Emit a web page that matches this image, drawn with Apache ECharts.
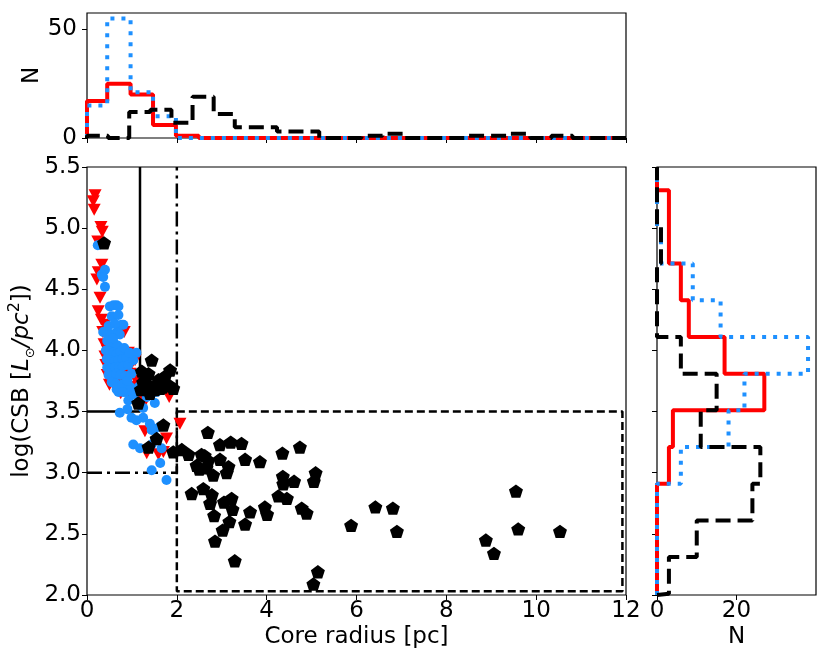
<!DOCTYPE html>
<html>
<head>
<meta charset="utf-8">
<script src="https://cdn.jsdelivr.net/npm/echarts@6/dist/echarts.min.js"></script>
<style>
  html, body { margin: 0; padding: 0; background: #fff; }
  #chart { width: 830px; height: 662px; }
</style>
</head>
<body>
<div id="chart"></div>
<script>
// top histogram (core radius), bin edges + counts
var topEdgesRB = [0, 0.45, 0.97, 1.47, 1.98, 2.49, 12];
var redTop = [17, 25, 20, 6, 1, 0];
var blueTop = [15, 55, 21, 10, 0, 0];
var topEdgesK = [0, 0.47, 0.94, 1.41, 1.88, 2.35, 2.82, 3.29, 3.76, 4.23, 4.70, 5.17, 5.64, 6.11, 6.58, 7.05, 7.52, 7.99, 8.46, 8.93, 9.40, 9.87, 10.34, 10.81, 11.28, 11.75, 12];
var blackTop = [1, 0, 12, 13, 7, 19, 11, 5, 5, 3, 3, 0, 0, 1, 2, 0, 0, 0, 1, 1, 2, 0, 1, 0, 0, 0];

// right histogram (log CSB), bin edges + counts
var rightEdges = [2.0, 2.01, 2.31, 2.61, 2.91, 3.21, 3.51, 3.81, 4.11, 4.41, 4.71, 5.01, 5.31, 5.5];
var redRight = [0, 0, 0, 0, 3, 4, 27, 17, 8, 6, 3, 3, 0];
var blueRight = [0, 0, 0, 0, 6, 18, 22, 38, 16, 9, 1, 0, 0];
var blackRight = [0, 3, 10, 24, 26, 11, 15, 6, 0, 0, 1, 0, 0];

// scatter: [core radius, log CSB]
var redPts = [
  [0.18,5.27],[0.14,5.22],[0.16,5.15],[0.31,5.01],[0.34,4.97],[0.24,4.89],[0.33,4.70],[0.25,4.64],
  [0.22,4.58],[0.29,4.43],[0.25,4.32],[0.40,4.21],[0.47,4.11],[0.51,4.06],[0.77,4.14],[0.83,4.15],
  [0.92,3.98],[0.59,3.92],[0.66,3.79],[1.07,3.92],[0.81,3.76],[0.96,3.81],[0.99,3.89],[1.83,3.62],
  [2.07,3.40],[1.29,3.34],[1.77,3.28],[1.33,3.16],[1.59,3.15],[1.70,3.17],
  [0.55,3.85],[0.62,3.70],[0.70,3.72],[0.75,3.65],[0.88,3.68],[0.45,4.00],[0.50,3.95],[0.60,4.02],
  [0.85,3.85],[1.00,3.70],[1.10,3.75],[0.95,3.62],[1.20,3.64],[1.30,3.59],[0.70,3.85],[0.72,3.78],
  [0.32,4.25],[0.35,4.15],[0.38,4.05],[0.40,3.95],[0.42,3.88],[0.45,3.80],[0.50,3.72]
];
var bluePts = [
  [0.24,4.86],[0.40,4.66],[0.33,4.62],[0.36,4.60],[0.40,4.52],[0.51,4.36],[0.66,4.37],[0.59,4.37],
  [0.70,4.36],[0.55,4.28],[0.70,4.29],[0.81,4.21],[0.77,4.21],[0.40,4.15],[0.36,4.15],[0.55,4.13],
  [0.66,4.15],[0.70,4.14],[0.73,4.13],[1.10,3.98],[0.99,3.81],[0.70,3.66],[0.85,3.66],[0.92,3.59],
  [1.03,3.64],[0.66,3.68],[0.96,3.70],[1.33,3.62],[1.51,3.57],[1.55,3.66],[0.73,3.49],[0.99,3.45],
  [1.25,3.45],[1.10,3.43],[1.25,3.53],[1.40,3.40],[1.44,3.35],[1.51,3.36],[1.63,3.38],[1.03,3.23],
  [1.18,3.20],[1.44,3.23],[1.66,3.20],[1.63,3.08],[1.44,3.02],[1.77,2.94],
  [0.45,4.08],[0.52,4.05],[0.60,4.06],[0.68,4.04],[0.42,4.00],[0.50,3.99],[0.58,3.98],[0.66,3.97],
  [0.75,3.99],[0.83,4.02],[0.44,3.93],[0.52,3.92],[0.61,3.91],[0.70,3.92],[0.78,3.93],[0.88,3.94],
  [0.45,3.86],[0.53,3.85],[0.62,3.86],[0.71,3.86],[0.80,3.87],[0.92,3.88],[0.48,3.80],[0.57,3.79],
  [0.65,3.81],[0.74,3.80],[0.85,3.79],[0.55,3.74],[0.64,3.73],[0.78,3.72],[0.90,3.75],[0.48,4.20],
  [0.62,4.22],[0.58,4.10],[1.03,3.92],[0.95,3.98],[0.80,3.66],[1.15,3.70],[0.90,3.52],[1.18,3.55]
];
var blackPts = [
  [0.38,4.88],
  [1.44,3.92],[1.22,3.83],[1.37,3.81],[1.59,3.76],[1.85,3.84],[1.74,3.79],[1.25,3.74],[1.44,3.70],
  [1.63,3.69],[1.92,3.69],[1.77,3.72],[1.51,3.68],[1.14,3.57],[1.70,3.39],[1.55,3.28],[1.37,3.21],
  [1.92,3.17],[1.30,3.76],[1.55,3.72],[1.68,3.70],[1.20,3.68],[1.85,3.71],[1.40,3.65],
  [2.69,3.33],[2.96,3.23],[3.20,3.25],[3.44,3.24],[3.52,3.11],[3.85,3.09],[4.35,3.16],[4.74,3.21],
  [2.11,3.19],[2.26,3.15],[2.55,3.15],[2.62,3.14],[2.44,3.06],[2.66,3.04],[2.96,3.11],[3.15,3.05],
  [2.81,2.98],[3.11,3.00],[2.50,3.03],[2.70,3.10],[2.33,2.83],[2.59,2.87],[2.78,2.82],[2.74,2.75],
  [3.05,2.76],[3.22,2.79],[3.24,2.70],[2.83,2.65],[3.17,2.60],[3.02,2.53],[2.85,2.44],[3.52,2.58],
  [3.63,2.68],[3.96,2.72],[4.01,2.66],[3.29,2.28],[4.36,2.97],[4.37,2.91],[4.61,2.93],[4.26,2.81],
  [4.45,2.79],[4.78,2.71],[4.89,2.67],[5.09,3.00],[5.05,2.93],[5.14,2.19],[5.04,2.09],[5.88,2.57],
  [6.42,2.72],[6.81,2.71],[6.90,2.52],[8.88,2.45],[9.06,2.34],[9.55,2.85],[9.60,2.54],[10.53,2.52]
];

// selection boxes
var solidBox = [[0,3.5],[1.18,3.5],[1.18,5.5]];
var dashDotBox = [[0,3.0],[2.0,3.0],[2.0,5.5]];
var dashedBox = [[2.0,3.5],[11.92,3.5],[11.92,2.03],[2.0,2.03],[2.0,3.5]];

var topNTicks = [0, 50];
var rightNTicks = [0, 20];

var FONT = 'DejaVu Sans';
var FS = 23;
var pentagon = 'path://M0,-1 L0.951,-0.309 L0.588,0.809 L-0.588,0.809 L-0.951,-0.309 Z';

// histtype='step' outline
function stepPts(edges, counts, horiz) {
    var pts = [[edges[0], 0]];
    for (var i = 0; i < counts.length; i++) {
        pts.push([edges[i], counts[i]]);
        pts.push([edges[i + 1], counts[i]]);
    }
    pts.push([edges[edges.length - 1], 0]);
    if (horiz) {
        pts = pts.map(function (p) { return [p[1], p[0]]; });
    }
    return pts;
}

function stepLine(idx, data, color, type, z) {
    return {
        type: 'line', xAxisIndex: idx, yAxisIndex: idx, data: data,
        symbol: 'none', silent: true, animation: false, z: z,
        lineStyle: { color: color, width: 4, type: type, cap: 'butt' }
    };
}

function boxLine(data, type) {
    return {
        type: 'line', xAxisIndex: 1, yAxisIndex: 1, data: data,
        symbol: 'none', silent: true, animation: false, z: 1,
        lineStyle: { color: '#000', width: 2.5, type: type }
    };
}

var tickStyle = { show: true, inside: false, length: 5, lineStyle: { color: '#000', width: 1 } };
var labelStyle = { color: '#000', fontFamily: FONT, fontSize: FS };
var gridBase = { show: true, borderColor: '#000', borderWidth: 1.2, backgroundColor: 'transparent', containLabel: false, outerBoundsMode: 'none' };

var myChart = echarts.init(document.getElementById('chart'));
var option = {
    backgroundColor: '#fff',
    animation: false,
    grid: [
        Object.assign({ left: 87, top: 13, width: 539, height: 125 }, gridBase),
        Object.assign({ left: 87, top: 167, width: 539, height: 428 }, gridBase),
        Object.assign({ left: 657, top: 167, width: 159, height: 428 }, gridBase)
    ],
    xAxis: [
        {
            gridIndex: 0, type: 'value', min: 0, max: 12, interval: 2,
            axisLine: { show: false }, splitLine: { show: false },
            axisTick: tickStyle, axisLabel: { show: false }
        },
        {
            gridIndex: 1, type: 'value', min: 0, max: 12, interval: 2,
            axisLine: { show: false }, splitLine: { show: false },
            axisTick: tickStyle,
            axisLabel: Object.assign({ margin: 5 }, labelStyle),
            name: 'Core radius [pc]', nameLocation: 'middle', nameGap: 31, nameMoveOverlap: false,
            nameTextStyle: labelStyle
        },
        {
            gridIndex: 2, type: 'value', min: 0, max: 40,
            axisLine: { show: false }, splitLine: { show: false },
            axisTick: Object.assign({ customValues: rightNTicks }, tickStyle),
            axisLabel: Object.assign({ margin: 5, customValues: rightNTicks }, labelStyle),
            name: 'N', nameLocation: 'middle', nameGap: 31, nameMoveOverlap: false,
            nameTextStyle: labelStyle
        }
    ],
    yAxis: [
        {
            gridIndex: 0, type: 'value', min: 0, max: 57.5,
            axisLine: { show: false }, splitLine: { show: false },
            axisTick: Object.assign({ customValues: topNTicks }, tickStyle),
            axisLabel: Object.assign({ margin: 10, customValues: topNTicks }, labelStyle),
            name: 'N', nameLocation: 'middle', nameGap: 43, nameMoveOverlap: false,
            nameTextStyle: labelStyle
        },
        {
            gridIndex: 1, type: 'value', min: 2, max: 5.5, interval: 0.5,
            axisLine: { show: false }, splitLine: { show: false },
            axisTick: tickStyle,
            axisLabel: Object.assign({
                margin: 6,
                formatter: function (v) { return v.toFixed(1); }
            }, labelStyle),
            name: 'log(CSB [{i|L}{s|⊙}{i|/pc}{p|2}])', nameLocation: 'middle', nameGap: 50, nameMoveOverlap: false,
            nameTextStyle: {
                color: '#000', fontFamily: FONT, fontSize: FS, lineHeight: 30,
                rich: {
                    i: { fontFamily: FONT, fontSize: FS, fontStyle: 'italic', color: '#000', lineHeight: 30 },
                    s: { fontFamily: FONT, fontSize: 13, color: '#000', verticalAlign: 'bottom', lineHeight: 30 },
                    p: { fontFamily: FONT, fontSize: 16, color: '#000', verticalAlign: 'top', lineHeight: 30 }
                }
            }
        },
        {
            gridIndex: 2, type: 'value', min: 2, max: 5.5, interval: 0.5,
            axisLine: { show: false }, splitLine: { show: false },
            axisTick: tickStyle, axisLabel: { show: false }
        }
    ],
    series: [
        stepLine(0, stepPts(topEdgesRB, redTop, false), '#FF0000', 'solid', 2),
        stepLine(0, stepPts(topEdgesRB, blueTop, false), '#1E90FF', [4, 7], 3),
        stepLine(0, stepPts(topEdgesK, blackTop, false), '#000', [15, 7], 4),
        stepLine(2, stepPts(rightEdges, redRight, true), '#FF0000', 'solid', 2),
        stepLine(2, stepPts(rightEdges, blueRight, true), '#1E90FF', [4, 7], 3),
        stepLine(2, stepPts(rightEdges, blackRight, true), '#000', [15, 7], 4),
        boxLine(solidBox, 'solid'),
        boxLine(dashDotBox, [15, 5, 3, 5]),
        boxLine(dashedBox, [8, 4]),
        {
            type: 'scatter', xAxisIndex: 1, yAxisIndex: 1, data: redPts,
            symbol: 'triangle', symbolRotate: 180, symbolSize: [13, 12], z: 2,
            itemStyle: { color: '#FF0000', opacity: 1 }
        },
        {
            type: 'scatter', xAxisIndex: 1, yAxisIndex: 1, data: bluePts,
            symbol: 'circle', symbolSize: 10, z: 3,
            itemStyle: { color: '#1E90FF', opacity: 1 }
        },
        {
            type: 'scatter', xAxisIndex: 1, yAxisIndex: 1, data: blackPts,
            symbol: pentagon, symbolSize: 14, symbolKeepAspect: true, z: 4,
            itemStyle: { color: '#000', opacity: 1 }
        }
    ]
};
myChart.setOption(option);
</script>
</body>
</html>
